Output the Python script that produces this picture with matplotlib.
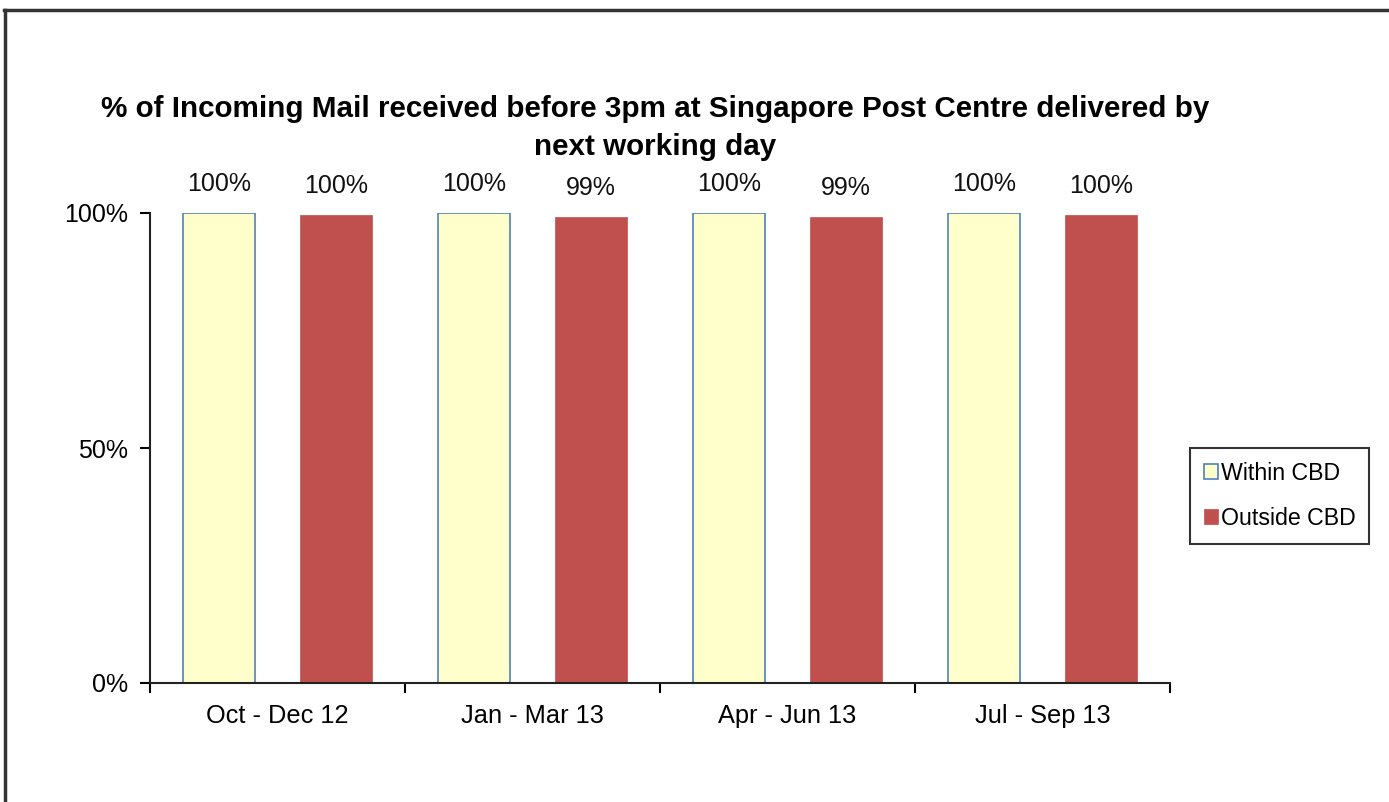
import numpy as np
import matplotlib.pyplot as plt
from matplotlib.lines import Line2D

plt.rcParams['font.family'] = ['Liberation Sans', 'DejaVu Sans']

# data
periods = ['Oct - Dec 12', 'Jan - Mar 13', 'Apr - Jun 13', 'Jul - Sep 13']
within_cbd = [100.0, 100.0, 100.0, 100.0]
outside_cbd = [99.6, 99.2, 99.2, 99.6]
title = '% of Incoming Mail received before 3pm at Singapore Post Centre delivered by\nnext working day'

fig = plt.figure(figsize=(13.89, 8.02), dpi=100)
ax = fig.add_axes([150 / 1389, 1 - 683 / 802, 1020 / 1389, 470 / 802])

x = np.arange(len(periods))
w = 0.282
off = 0.229
b1 = ax.bar(x - off, within_cbd, w, color='#FFFFCC', edgecolor='#4F81BD', linewidth=1.2, label='Within CBD')
b2 = ax.bar(x + off, outside_cbd, w, color='#C0504D', edgecolor='#C0504D', linewidth=0.5, label='Outside CBD')

for bars in (b1, b2):
    ax.bar_label(bars, labels=['%.0f%%' % round(v.get_height()) for v in bars],
                 padding=12, fontsize=18, color='#111111')

ax.set_xlim(-0.5, 3.5)
ax.set_ylim(0, 100)
ax.set_yticks([0, 50, 100])
ax.set_yticklabels(['0%', '50%', '100%'])
ax.set_xticks(np.arange(-0.5, 4.0, 1.0))
ax.set_xticklabels([])
ax.set_xticks(x, minor=True)
ax.set_xticklabels(periods, minor=True)
ax.tick_params(axis='x', which='minor', length=0, pad=15, labelsize=18.3)
ax.tick_params(axis='x', which='major', length=7, width=1.5, direction='out')
ax.tick_params(axis='y', length=7, width=1.5, pad=9, labelsize=18)
for s in ['top', 'right']:
    ax.spines[s].set_visible(False)
for s in ['left', 'bottom']:
    ax.spines[s].set_linewidth(1.5)
    ax.spines[s].set_color('#222222')

fig.text(655 / 1389, 1 - 128 / 802, title, ha='center', va='center',
         fontsize=21.3, fontweight='bold', linespacing=1.45)

leg = ax.legend(loc='center left', bbox_to_anchor=(1190 / 1389, 1 - 496 / 802),
                bbox_transform=fig.transFigure, frameon=True, fancybox=False,
                edgecolor='black', fontsize=16.7, handlelength=0.6, handleheight=0.6,
                handletextpad=0.12, labelspacing=0.95, borderpad=0.6, borderaxespad=0)
leg.get_frame().set_linewidth(1.5)

# outer frame of the chart area (top and left edges visible)
fig.add_artist(Line2D([4 / 1389, 1], [1 - 10 / 802, 1 - 10 / 802], transform=fig.transFigure,
                      color='#333333', linewidth=2.5))
fig.add_artist(Line2D([5 / 1389, 5 / 1389], [0, 1 - 10 / 802], transform=fig.transFigure,
                      color='#333333', linewidth=2.5))

fig.savefig('out.png', dpi=100)
